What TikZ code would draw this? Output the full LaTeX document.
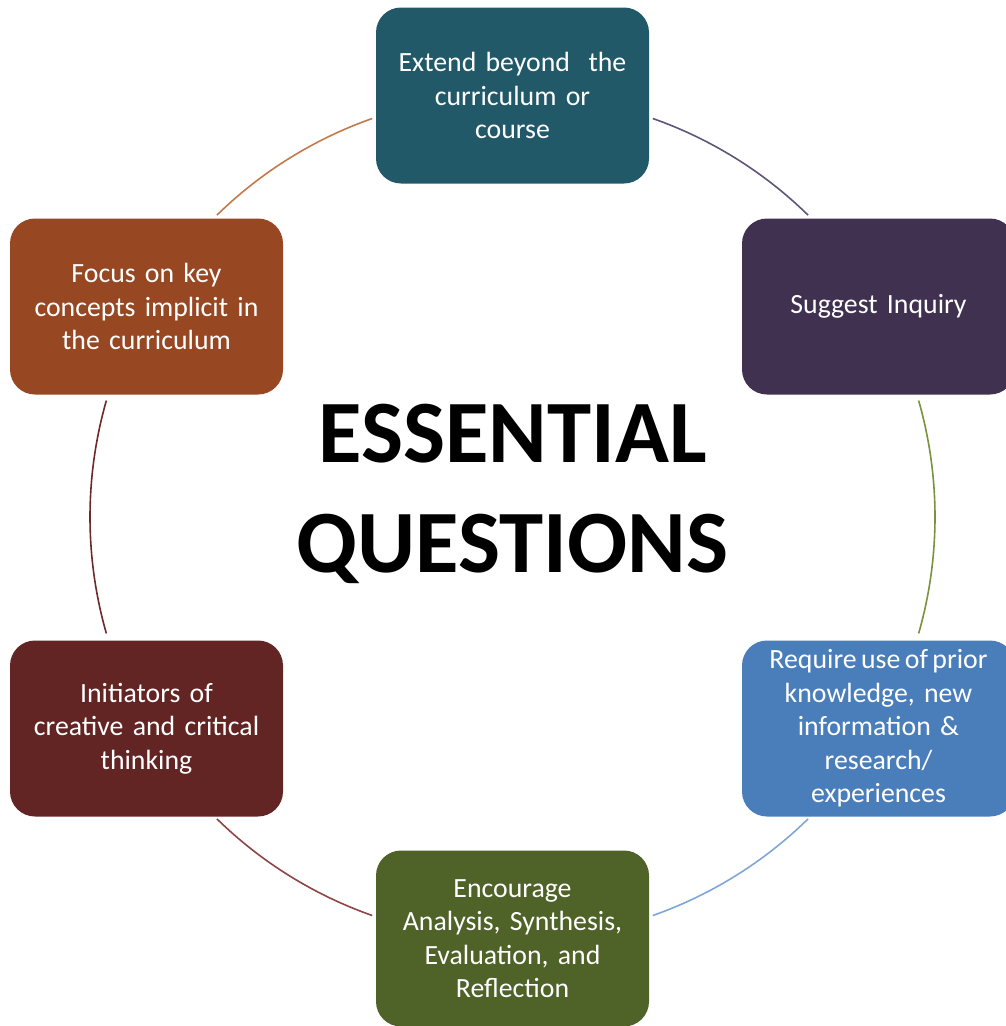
\documentclass[tikz,border=0pt]{standalone}
\usepackage{fontspec}
\setmainfont{Carlito}
\definecolor{cteal}{HTML}{215968}
\definecolor{cpurple}{HTML}{403151}
\definecolor{cblue}{HTML}{4A7EBB}
\definecolor{cgreen}{HTML}{4F6228}
\definecolor{cred}{HTML}{632523}
\definecolor{corange}{HTML}{974822}
\definecolor{apurple}{HTML}{5E5578}
\definecolor{agreen}{HTML}{77933C}
\definecolor{ablue}{HTML}{7FA6D8}
\definecolor{abrown}{HTML}{8C4646}
\definecolor{ared}{HTML}{6E2A2A}
\definecolor{aorange}{HTML}{C47A48}
\tikzset{
  card/.style={draw=none, fill=#1, rounded corners=25pt, minimum width=273pt,
    minimum height=176pt, text width=266pt, align=center, text=white,
    inner sep=0pt, font=\fontsize{27.8}{33.5}\selectfont},
  ring/.style={draw=#1, line width=1.6pt},
  title/.style={font=\fontsize{89}{110}\selectfont\bfseries, align=center, text=black}
}
\begin{document}
\begin{tikzpicture}[x=1pt,y=-1pt]
\useasboundingbox (0,0) rectangle (1005,1026);
\coordinate (c) at (512.5,517);
\node[card=cteal] (n1) at (512.5,95.5) {Extend beyond\ \ the\\curriculum or\\course};
\node[card=cpurple] (n2) at (878.5,306.5) {Suggest Inquiry};
\node[card=cblue] (n3) at (878.5,728.5) {{\spaceskip=0.16em Require use of prior}\\knowledge, new\\information \&\\research/\\experiences};
\node[card=cgreen] (n4) at (512.5,938.5) {Encourage\\Analysis, Synthesis,\\Evaluation, and\\Reflection};
\node[card=cred] (n5) at (146.5,728.5) {Initiators of\\creative and critical\\thinking};
\node[card=corange] (n6) at (146.5,306.5) {Focus on key\\concepts implicit in\\the curriculum};
\node[title] (t) at (512.5,494) {ESSENTIAL\\QUESTIONS};
\draw[ring=apurple] ([shift={(c)}]70.6:422.5pt) arc (70.6:45.6:422.5pt);
\draw[ring=agreen] ([shift={(c)}]16:422.5pt) arc (16:-16:422.5pt);
\draw[ring=ablue] ([shift={(c)}]-45.6:422.5pt) arc (-45.6:-70.6:422.5pt);
\draw[ring=abrown] ([shift={(c)}]-109.4:422.5pt) arc (-109.4:-134.4:422.5pt);
\draw[ring=ared] ([shift={(c)}]-164:422.5pt) arc (-164:-196:422.5pt);
\draw[ring=aorange] ([shift={(c)}]134.4:422.5pt) arc (134.4:109.4:422.5pt);
\end{tikzpicture}
\end{document}
